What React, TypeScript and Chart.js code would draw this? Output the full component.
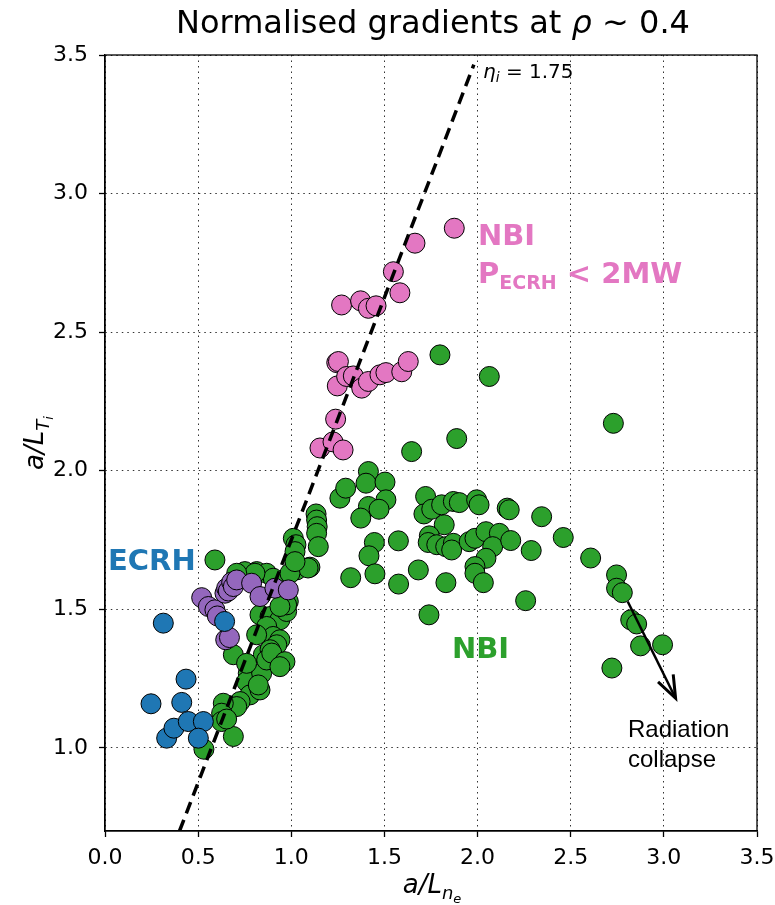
import React, { useEffect, useRef } from 'react';
import { Chart, registerables } from 'chart.js';
Chart.register(...registerables);

// ---- data ----
const ecrhX = [0.313, 0.435, 0.247, 0.412, 0.642, 0.331, 0.370, 0.447, 0.528, 0.501];
const ecrhY = [1.450, 1.248, 1.159, 1.164, 1.456, 1.035, 1.071, 1.095, 1.095, 1.035];

const purpleX = [0.519, 0.555, 0.590, 0.603, 0.648, 0.668, 0.644, 0.653, 0.662, 0.680, 0.689, 0.707, 0.787, 0.832, 0.912, 0.984];
const purpleY = [1.542, 1.510, 1.498, 1.476, 1.390, 1.398, 1.558, 1.576, 1.566, 1.598, 1.582, 1.606, 1.594, 1.546, 1.576, 1.570];

const pinkX = [1.875, 1.664, 1.548, 1.583, 1.270, 1.372, 1.414, 1.455, 1.244, 1.253, 1.247, 1.297, 1.333, 1.378, 1.414, 1.476, 1.508, 1.593, 1.628, 1.238, 1.154, 1.224, 1.278];
const pinkY = [2.875, 2.821, 2.718, 2.642, 2.598, 2.613, 2.586, 2.595, 2.390, 2.394, 2.306, 2.340, 2.342, 2.298, 2.322, 2.346, 2.354, 2.357, 2.394, 2.186, 2.082, 2.104, 2.075];

const nbiX = [
  1.798, 2.063, 2.729, 1.888, 1.646,
  1.261, 1.292, 1.414, 1.401, 1.503, 1.508, 1.414, 1.471, 1.373, 1.446, 1.417, 1.449, 1.319, 1.575, 1.576,
  1.682, 1.739, 1.721, 1.712, 1.754, 1.807, 1.870, 1.902, 1.995, 2.008, 1.821, 1.741, 1.735, 1.781, 1.829,
  1.870, 1.861, 1.830, 1.955, 1.986, 2.045, 2.117, 2.081, 2.178, 2.045, 1.986, 1.986, 2.031, 2.159, 2.170,
  2.288, 2.344, 2.258,
  2.460, 2.607, 2.746, 2.746, 2.777, 2.822, 2.854, 2.875, 2.993, 2.721,
  1.133, 1.136, 1.139, 1.136, 1.145, 1.011, 1.025, 1.020, 1.029, 1.100, 1.090,
  0.590, 0.814, 0.868, 0.751, 0.903, 0.993, 1.020, 1.020, 0.832, 0.886, 0.939, 0.975, 0.984, 0.868, 0.903,
  0.939, 0.814, 0.922, 0.689, 0.850, 0.886, 0.769, 0.760, 0.778, 0.841, 0.868, 0.895, 0.966, 0.939, 0.832,
  0.823, 0.725, 0.707, 0.635, 0.626, 0.626, 0.689, 0.531, 0.760, 0.805, 0.707, 0.653, 0.975, 0.939,
];
const nbiY = [
  2.418, 2.340, 2.171, 2.116, 2.069,
  1.901, 1.937, 1.997, 1.955, 1.959, 1.895, 1.871, 1.861, 1.829, 1.741, 1.693, 1.628, 1.614, 1.747, 1.591,
  1.642, 1.480, 1.907, 1.844, 1.861, 1.877, 1.889, 1.885, 1.895, 1.877, 1.805, 1.765, 1.741, 1.733, 1.726,
  1.738, 1.714, 1.596, 1.744, 1.756, 1.780, 1.774, 1.726, 1.748, 1.684, 1.654, 1.630, 1.596, 1.865, 1.859,
  1.712, 1.834, 1.531,
  1.759, 1.685, 1.624, 1.576, 1.560, 1.462, 1.447, 1.368, 1.372, 1.288,
  1.844, 1.822, 1.798, 1.774, 1.726, 1.756, 1.733, 1.664, 1.642, 1.652, 1.649,
  1.678, 1.636, 1.630, 1.636, 1.612, 1.630, 1.708, 1.672, 1.480, 1.474, 1.462, 1.492, 1.528, 1.438, 1.402,
  1.390, 1.408, 1.372, 1.336, 1.336, 1.354, 1.269, 1.239, 1.191, 1.269, 1.317, 1.342, 1.311, 1.293, 1.209,
  1.227, 1.167, 1.149, 1.161, 1.125, 1.095, 1.041, 0.995, 1.305, 1.630, 1.630, 1.104, 1.516, 1.510,
];

// eta_i = 1.75 reference line end points
const etaX = [0.4, 1.98];
const etaY = [0.7, 3.465];

// "radiation collapse" arrow (data coords)
const arrowX = [2.806, 3.063];
const arrowY = [1.528, 1.179];

const xTicks = [0, 0.5, 1.0, 1.5, 2.0, 2.5, 3.0, 3.5];
const yTicks = [1.0, 1.5, 2.0, 2.5, 3.0, 3.5];

const BLUE = '#1f77b4';
const GREEN = '#2ca02c';
const PINK = '#e377c2';
const PURPLE = '#9467bd';

type Seg = { t: string; size: number; dy?: number; style?: string; weight?: string; family?: string };

function drawSegs(ctx: CanvasRenderingContext2D, segs: Seg[], x: number, y: number, align: 'left' | 'center') {
  const fontOf = (s: Seg) => `${s.style || 'normal'} ${s.weight || 'normal'} ${s.size}px ${s.family || '"DejaVu Sans"'}`;
  let total = 0;
  for (const s of segs) {
    ctx.font = fontOf(s);
    total += ctx.measureText(s.t).width;
  }
  let cx = align === 'center' ? x - total / 2 : x;
  ctx.textAlign = 'left';
  ctx.textBaseline = 'alphabetic';
  for (const s of segs) {
    ctx.font = fontOf(s);
    ctx.fillText(s.t, cx, y + (s.dy || 0));
    cx += ctx.measureText(s.t).width;
  }
}

const annotPlugin = {
  id: 'annot',
  afterDatasetsDraw(chart: any) {
    const { ctx, scales } = chart;
    const xs = scales.x, ys = scales.y;
    const x0 = xs.getPixelForValue(arrowX[0]);
    const y0 = ys.getPixelForValue(arrowY[0]);
    const x1 = xs.getPixelForValue(arrowX[1]);
    const y1 = ys.getPixelForValue(arrowY[1]);
    const ang = Math.atan2(y1 - y0, x1 - x0);
    ctx.save();
    ctx.strokeStyle = '#000';
    ctx.lineWidth = 2.5;
    ctx.lineCap = 'butt';
    ctx.beginPath();
    ctx.moveTo(x0, y0);
    ctx.lineTo(x1, y1);
    ctx.stroke();
    const hl = 24, ha = 0.36;
    ctx.lineWidth = 3;
    ctx.lineJoin = 'miter';
    ctx.beginPath();
    ctx.moveTo(x1 - hl * Math.cos(ang - ha), y1 - hl * Math.sin(ang - ha));
    ctx.lineTo(x1, y1);
    ctx.lineTo(x1 - hl * Math.cos(ang + ha), y1 - hl * Math.sin(ang + ha));
    ctx.stroke();
    ctx.restore();
  },
  afterDraw(chart: any) {
    const { ctx, chartArea: ca } = chart;
    ctx.save();
    // frame
    ctx.strokeStyle = '#000';
    ctx.lineWidth = 1.3;
    ctx.strokeRect(ca.left, ca.top, ca.right - ca.left, ca.bottom - ca.top);

    ctx.fillStyle = '#000';
    // title
    drawSegs(ctx, [
      { t: 'Normalised gradients at ', size: 32 },
      { t: 'ρ', size: 32, style: 'italic' },
      { t: ' ~ 0.4', size: 32 },
    ], 433, 33, 'center');

    // x label
    drawSegs(ctx, [
      { t: 'a/L', size: 26, style: 'italic' },
      { t: 'n', size: 18, style: 'italic', dy: 6 },
      { t: 'e', size: 13, style: 'italic', dy: 10 },
    ], 432, 893, 'center');

    // y label
    ctx.save();
    ctx.translate(43, (ca.top + ca.bottom) / 2);
    ctx.rotate(-Math.PI / 2);
    drawSegs(ctx, [
      { t: 'a/L', size: 26, style: 'italic' },
      { t: 'T', size: 18, style: 'italic', dy: 6 },
      { t: 'i', size: 13, style: 'italic', dy: 10 },
    ], 0, 0, 'center');
    ctx.restore();

    // eta label
    drawSegs(ctx, [
      { t: 'η', size: 20, style: 'italic' },
      { t: 'i', size: 14, style: 'italic', dy: 4 },
      { t: ' = 1.75', size: 20 },
    ], 483, 78, 'left');

    // ECRH
    ctx.fillStyle = BLUE;
    drawSegs(ctx, [{ t: 'ECRH', size: 29, weight: 'bold' }], 108, 570, 'left');
    // NBI green
    ctx.fillStyle = GREEN;
    drawSegs(ctx, [{ t: 'NBI', size: 29, weight: 'bold' }], 452, 658, 'left');
    // NBI pink
    ctx.fillStyle = PINK;
    drawSegs(ctx, [{ t: 'NBI', size: 29, weight: 'bold' }], 478, 245, 'left');
    drawSegs(ctx, [
      { t: 'P', size: 29, weight: 'bold' },
      { t: 'ECRH', size: 19, weight: 'bold', dy: 6 },
      { t: ' < 2MW', size: 29, weight: 'bold' },
    ], 478, 283, 'left');

    // Radiation collapse
    ctx.fillStyle = '#000';
    drawSegs(ctx, [{ t: 'Radiation', size: 24, family: '"Liberation Sans"' }], 628, 737, 'left');
    drawSegs(ctx, [{ t: 'collapse', size: 24, family: '"Liberation Sans"' }], 628, 767, 'left');
    ctx.restore();
  },
};

const toPts = (xs: number[], ys: number[]) => xs.map((x, i) => ({ x, y: ys[i] }));

const pointSet = (data: { x: number; y: number }[], color: string, order: number) => ({
  data,
  pointBackgroundColor: color,
  pointBorderColor: '#000',
  pointBorderWidth: 1,
  pointRadius: 10,
  pointHoverRadius: 10,
  showLine: false,
  order,
});

export default function App() {
  const ref = useRef<HTMLCanvasElement>(null);
  useEffect(() => {
    const canvas = ref.current!;
    const tickFont = { family: '"DejaVu Sans"', size: 22 };
    const chart = new Chart(canvas, {
      type: 'scatter',
      data: {
        datasets: [
          {
            data: toPts(etaX, etaY),
            showLine: true,
            borderColor: '#000',
            borderWidth: 3.5,
            borderDash: [12, 7],
            pointRadius: 0,
            fill: false,
            order: 0,
          } as any,
          pointSet(toPts(ecrhX, ecrhY), BLUE, 1),
          pointSet(toPts(purpleX, purpleY), PURPLE, 2),
          pointSet(toPts(pinkX, pinkY), PINK, 3),
          pointSet(toPts(nbiX, nbiY), GREEN, 4),
        ],
      },
      options: {
        responsive: false,
        animation: false,
        devicePixelRatio: 1,
        events: [],
        layout: { padding: { top: 55, right: 18, left: 0, bottom: 0 } },
        plugins: { legend: { display: false }, title: { display: false }, tooltip: { enabled: false } },
        scales: {
          x: {
            type: 'linear',
            min: 0,
            max: 3.5,
            afterBuildTicks: (s: any) => { s.ticks = xTicks.map((v) => ({ value: v })); },
            afterFit: (s: any) => { s.height = 74; s.paddingLeft = 0; s.paddingRight = 0; },
            ticks: { font: tickFont, color: '#000', padding: 8, maxRotation: 0, autoSkip: false, callback: (v: any) => Number(v).toFixed(1) },
            grid: { color: '#333', lineWidth: 1, tickColor: '#000', tickLength: 6, tickWidth: 1.3 },
            border: { display: true, color: '#000', width: 1.3, dash: [1.5, 4] },
          },
          y: {
            type: 'linear',
            min: 0.7,
            max: 3.5,
            afterBuildTicks: (s: any) => { s.ticks = yTicks.map((v) => ({ value: v })); },
            afterFit: (s: any) => { s.width = 105; s.paddingTop = 0; s.paddingBottom = 0; },
            ticks: { font: tickFont, color: '#000', padding: 11, autoSkip: false, callback: (v: any) => Number(v).toFixed(1) },
            grid: { color: '#333', lineWidth: 1, tickColor: '#000', tickLength: 6, tickWidth: 1.3 },
            border: { display: true, color: '#000', width: 1.3, dash: [1.5, 4] },
          },
        },
      } as any,
      plugins: [annotPlugin],
    });
    return () => chart.destroy();
  }, []);
  return (
    <div style={{ position: 'absolute', left: 0, top: 0, width: 775, height: 905, background: '#fff' }}>
      <canvas ref={ref} width={775} height={905} style={{ display: 'block' }} />
    </div>
  );
}
